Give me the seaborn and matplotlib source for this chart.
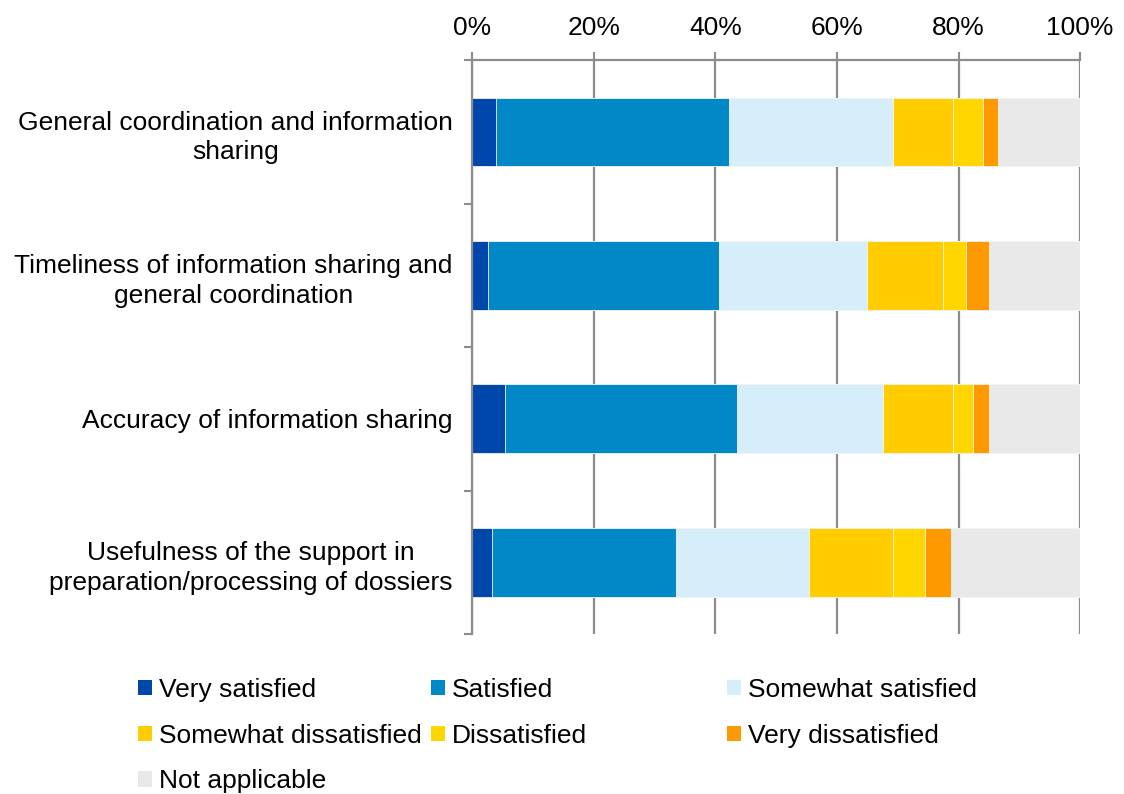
import matplotlib
matplotlib.use('Agg')
import numpy as np
import matplotlib.pyplot as plt
from matplotlib.patches import Patch
import seaborn as sns

sns.set_theme(style='white')
plt.rcParams['font.family'] = ['Liberation Sans', 'DejaVu Sans']
plt.rcParams['text.color'] = 'black'

categories = [
    'General coordination and information\nsharing',
    'Timeliness of information sharing and\ngeneral coordination',
    'Accuracy of information sharing',
    'Usefulness of the support in\npreparation/processing of dossiers',
]
series = ['Very satisfied', 'Satisfied', 'Somewhat satisfied',
          'Somewhat dissatisfied', 'Dissatisfied', 'Very dissatisfied',
          'Not applicable']

very_satisfied        = [3.9, 2.6, 5.4, 3.3]
satisfied             = [38.4, 38.0, 38.1, 30.3]
somewhat_satisfied    = [27.0, 24.4, 24.0, 21.8]
somewhat_dissatisfied = [9.8, 12.5, 11.6, 13.8]
dissatisfied          = [4.9, 3.7, 3.2, 5.3]
very_dissatisfied     = [2.5, 3.8, 2.7, 4.2]
not_applicable        = [13.5, 15.0, 15.0, 21.3]

colors = ['#0047AB', '#0088C7', '#D6EEF9', '#FFCC00', '#FFD600', '#FF9900', '#E9E9E9']

values = [very_satisfied, satisfied, somewhat_satisfied, somewhat_dissatisfied,
          dissatisfied, very_dissatisfied, not_applicable]
cum = np.cumsum(np.array(values), axis=0)

FS = 19
fig = plt.figure(figsize=(11.24, 7.94), dpi=100)
ax = fig.add_axes([0.42, 0.2015, 0.541, 0.7225])

# stacked bars: draw the longest cumulative first, then overlay shorter ones
for i in range(len(series) - 1, -1, -1):
    sns.barplot(x=cum[i], y=categories, orient='h', color=colors[i],
                saturation=1, width=0.48, edgecolor='#f4f4f4', linewidth=0.6, ax=ax)

grid_c = '#8c8c8c'
ax.set_xlim(0, 100)
ax.set_ylim(3.5, -0.5)
ax.set_xticks(np.arange(0, 101, 20))
ax.set_xticklabels([f'{v}%' for v in range(0, 101, 20)])
ax.xaxis.tick_top()
ax.tick_params(axis='x', which='major', top=True, bottom=False, direction='out',
               length=6, width=1.5, color=grid_c, labelsize=FS, pad=9, labelcolor='black')
ax.grid(axis='x', color=grid_c, linewidth=1.6)
ax.set_axisbelow(True)

ax.set_yticks(range(len(categories)))
ax.set_yticklabels(categories)
ax.set_yticks([-0.5, 0.5, 1.5, 2.5, 3.5], minor=True)
ax.tick_params(axis='y', which='major', length=0, labelsize=FS, pad=14, labelcolor='black')
ax.tick_params(axis='y', which='minor', left=True, length=6, width=1.5, color=grid_c)
for lab in ax.get_yticklabels():
    lab.set_multialignment('center')
    lab.set_linespacing(1.3)

for side in ['right', 'bottom']:
    ax.spines[side].set_visible(False)
for side in ['left', 'top']:
    ax.spines[side].set_color(grid_c)
    ax.spines[side].set_linewidth(1.6)
ax.set_xlabel('')
ax.set_ylabel('')

# legend laid out as three columns, row-wise order
handles = [Patch(facecolor=c, edgecolor='none', label=s) for s, c in zip(series, colors)]
col_groups = [[0, 3, 6], [1, 4], [2, 5]]
col_x = [138, 431, 727]
for grp, xpix in zip(col_groups, col_x):
    fig.legend(handles=[handles[k] for k in grp], loc='upper left',
               bbox_to_anchor=(xpix / 1124, 1 - 678 / 794), frameon=False,
               fontsize=FS, handlelength=0.53, handleheight=0.53, handletextpad=0.27,
               labelspacing=0.82, borderpad=0, borderaxespad=0, labelcolor='black')

plt.savefig('out.png', dpi=100)
